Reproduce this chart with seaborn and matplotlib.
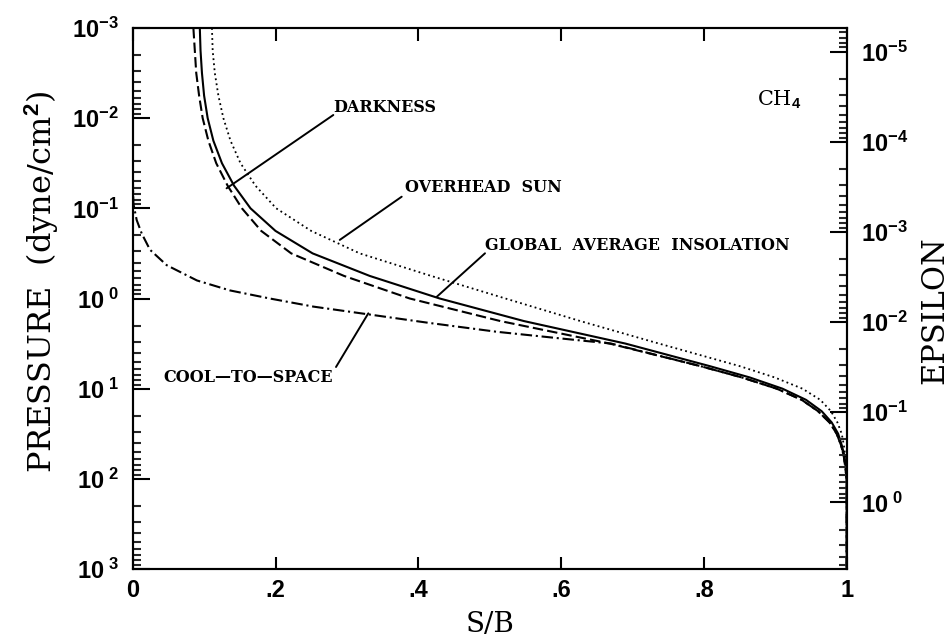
import numpy as np
import pandas as pd
import matplotlib
matplotlib.use("Agg")
import matplotlib.pyplot as plt
import seaborn as sns
from matplotlib.ticker import FixedLocator, NullFormatter, FixedFormatter, LogLocator

# ---------------- data ----------------
pressure_grid = [1e-3, 1.78e-3, 3.16e-3, 5.62e-3, 1e-2, 1.78e-2, 3.16e-2, 5.62e-2, 0.1,
                 0.178, 0.316, 0.562, 1.0, 1.78, 3.16, 5.62, 7.5, 10.0, 13.3, 17.8,
                 23.7, 31.6, 42.2, 56.2, 100.0, 1000.0]
sb_darkness = [0.085, 0.087, 0.089, 0.093, 0.098, 0.106, 0.117, 0.133, 0.153,
               0.180, 0.222, 0.296, 0.388, 0.515, 0.668, 0.795, 0.853, 0.902, 0.937,
               0.960, 0.976, 0.986, 0.992, 0.996, 1.0, 1.0]
sb_global = [0.094, 0.095, 0.097, 0.100, 0.105, 0.113, 0.125, 0.142, 0.165,
             0.200, 0.252, 0.332, 0.430, 0.548, 0.690, 0.808, 0.864, 0.910, 0.943,
             0.965, 0.979, 0.988, 0.993, 0.997, 1.0, 1.0]
sb_overhead = [0.111, 0.112, 0.115, 0.120, 0.127, 0.137, 0.151, 0.172, 0.201,
               0.250, 0.318, 0.418, 0.522, 0.627, 0.737, 0.850, 0.899, 0.938, 0.963,
               0.978, 0.987, 0.993, 0.996, 0.998, 1.0, 1.0]

pressure_cool = [1e-3, 0.0501, 0.0891, 0.135, 0.19, 0.288, 0.427, 0.631, 0.813,
                 1.0, 1.23, 1.48, 1.86, 2.34, 2.75, 3.16, 5.62, 7.5, 10.0, 13.3,
                 17.8, 23.7, 31.6, 42.2, 56.2, 100.0, 1000.0]
sb_cool = [0.0, 0.0003, 0.001, 0.0056, 0.0126, 0.0242, 0.0476, 0.090, 0.136,
           0.192, 0.253, 0.325, 0.414, 0.510, 0.595, 0.670, 0.795, 0.853, 0.902,
           0.937, 0.960, 0.976, 0.986, 0.992, 0.996, 1.0, 1.0]

x_ticks = [0, 0.2, 0.4, 0.6, 0.8, 1.0]
x_tick_labels = ["0", ".2", ".4", ".6", ".8", "1"]
p_ticks = [1e-3, 1e-2, 1e-1, 1e0, 1e1, 1e2, 1e3]
p_tick_labels = [r"$\mathbf{10^{-3}}$", r"$\mathbf{10^{-2}}$", r"$\mathbf{10^{-1}}$",
                 r"$\mathbf{10^{\ 0}}$", r"$\mathbf{10^{\ 1}}$", r"$\mathbf{10^{\ 2}}$",
                 r"$\mathbf{10^{\ 3}}$"]
eps_ticks = [1e-5, 1e-4, 1e-3, 1e-2, 1e-1, 1e0]
eps_tick_labels = [r"$\mathbf{10^{-5}}$", r"$\mathbf{10^{-4}}$", r"$\mathbf{10^{-3}}$",
                   r"$\mathbf{10^{-2}}$", r"$\mathbf{10^{-1}}$", r"$\mathbf{10^{\ 0}}$"]
eps_limits = (10 ** 0.738, 10 ** -5.262)

# ---------------- style ----------------
sns.set_theme(style="white")
plt.rcParams.update({
    "font.family": ["DejaVu Serif"],
    "mathtext.fontset": "custom",
    "mathtext.bf": "Liberation Sans:bold",
    "mathtext.rm": "Liberation Sans",
    "mathtext.it": "Liberation Sans:italic",
    "axes.edgecolor": "black",
    "axes.linewidth": 1.5,
})

W, H = 950, 640
fig = plt.figure(figsize=(W / 100, H / 100), dpi=100)
L, R, T, B = 132.7, 846.7, 28.0, 569.0
ax = fig.add_axes([L / W, 1 - B / H, (R - L) / W, (B - T) / H])

def fx(px):
    return px / W

def fy(py):
    return 1 - py / H

lw = 1.5
sns.lineplot(x=sb_darkness, y=pressure_grid, sort=False, estimator=None, ax=ax,
             color="black", lw=lw, linestyle=(0, (5, 2)))
sns.lineplot(x=sb_global, y=pressure_grid, sort=False, estimator=None, ax=ax,
             color="black", lw=lw, linestyle="-")
sns.lineplot(x=sb_overhead, y=pressure_grid, sort=False, estimator=None, ax=ax,
             color="black", lw=1.3, linestyle=(0, (1, 1.8)))
sns.lineplot(x=sb_cool, y=pressure_cool, sort=False, estimator=None, ax=ax,
             color="black", lw=lw, linestyle=(0, (5.5, 1.8, 1, 1.8)))

ax.set_yscale("log")
ax.set_xlim(0, 1)
ax.set_ylim(1e3, 1e-3)

ax.xaxis.set_major_locator(FixedLocator(x_ticks))
ax.xaxis.set_major_formatter(FixedFormatter(x_tick_labels))
ax.yaxis.set_major_locator(FixedLocator(p_ticks))
ax.yaxis.set_major_formatter(FixedFormatter(p_tick_labels))
ax.yaxis.set_minor_locator(LogLocator(base=10, subs=np.arange(2, 10), numticks=50))
ax.yaxis.set_minor_formatter(NullFormatter())

ax.tick_params(axis="x", which="major", direction="in", length=9, width=1.5,
               top=True, bottom=True, labelsize=17, pad=7, colors="black")
ax.tick_params(axis="y", which="major", direction="in", length=12, width=1.5,
               left=True, right=False, labelsize=17, pad=10, colors="black")
ax.tick_params(axis="y", which="minor", direction="in", length=6, width=1.5,
               left=True, right=False)
for lab in ax.get_xticklabels():
    lab.set_fontfamily("Liberation Sans")
    lab.set_fontweight("bold")

ax.set_xlabel("S/B", fontsize=20, labelpad=7, color="black")
ax.set_ylabel("")
fig.text(fx(42), fy(282), r"PRESSURE  (dyne/cm$^\mathbf{2}$)", rotation=90,
         ha="center", va="center", fontsize=23, color="black")

# Right epsilon axis
ax2 = ax.twinx()
ax2.set_yscale("log")
ax2.set_ylim(*eps_limits)
ax2.yaxis.set_major_locator(FixedLocator(eps_ticks))
ax2.yaxis.set_major_formatter(FixedFormatter(eps_tick_labels))
ax2.yaxis.set_minor_locator(LogLocator(base=10, subs=np.arange(2, 10), numticks=50))
ax2.yaxis.set_minor_formatter(NullFormatter())
ax2.tick_params(axis="y", which="major", direction="in", length=12, width=1.5,
                right=True, left=False, labelsize=17, pad=10, colors="black")
ax2.tick_params(axis="y", which="minor", direction="in", length=6, width=1.5,
                right=True, left=False)
ax2.set_ylabel("")
for s in ax2.spines.values():
    s.set_linewidth(1.5)
    s.set_color("black")
fig.text(fx(935), fy(310), "EPSILON", rotation=90, ha="center", va="center",
         fontsize=22, color="black")

# Curve labels and leader lines
lab_kw = dict(fontsize=11.5, fontweight="bold", family="DejaVu Serif", color="black")
fig.text(fx(333), fy(108), "DARKNESS", ha="left", va="center", **lab_kw)
fig.text(fx(405), fy(187), "OVERHEAD  SUN", ha="left", va="center", **lab_kw)
fig.text(fx(485), fy(246), "GLOBAL  AVERAGE  INSOLATION", ha="left", va="center", **lab_kw)
fig.text(fx(333), fy(378), "COOL\u2014TO\u2014SPACE", ha="right", va="center", **lab_kw)
fig.text(fx(757), fy(100), r"CH$_\mathbf{4}$", ha="left", va="center",
         fontsize=15, family="DejaVu Serif", color="black")

leader_kw = dict(arrowstyle="-", lw=1.4, color="black", shrinkA=0, shrinkB=0)
leaders = [((333.3, 115), (0.1315, 0.060)),
           ((401.7, 196.7), (0.290, 0.224)),
           ((485, 253.3), (0.426, 0.955)),
           ((336, 367), (0.330, 1.46))]
for (px, py), (xd, pd_) in leaders:
    ax.annotate("", xy=(xd, pd_), xycoords="data",
                xytext=(fx(px), fy(py)), textcoords="figure fraction",
                arrowprops=leader_kw, annotation_clip=False)

fig.savefig("out.png", dpi=100)
